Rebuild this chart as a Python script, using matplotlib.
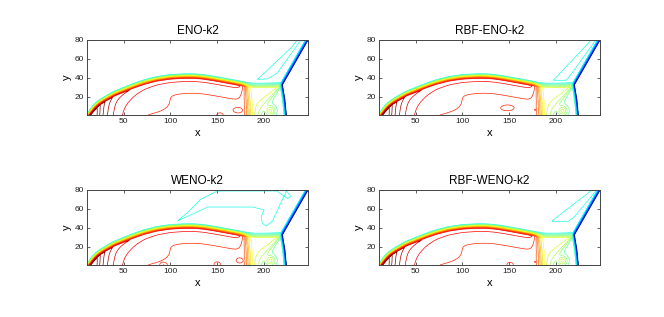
import numpy as np
import matplotlib
matplotlib.use("Agg")
import matplotlib.pyplot as plt
from matplotlib.path import Path
from matplotlib.colors import LinearSegmentedColormap

# ---------------- chart data ----------------
titles = ["ENO-k2", "RBF-ENO-k2", "WENO-k2", "RBF-WENO-k2"]
x_range = [11, 247]
y_range = [1, 80]
x_ticks = [50, 100, 150, 200]
y_ticks = [20, 40, 60, 80]

# density states of the flow regions
rho_pre = 1.4            # ahead of incident shock / Mach stem
rho_post_incident = 8.2  # behind incident shock
rho_interior = 15.9      # behind reflected shock (far field)
rho_slip_high = 11.8     # above the slip line
rho_slip_low = 9.5       # below the slip line
level_min = 1.5
level_max = 20.0
color_max = 19.0
n_levels = 30

# reflected (bow) shock centre line
refl_x = [8, 13, 17, 22, 28.6, 40, 50, 60, 71.5, 85, 100, 115, 125, 135, 146, 160, 172, 182, 190, 205, 218, 260]
refl_y = [-6, 1, 7, 12.5, 17, 23.5, 27.5, 31.5, 35.5, 39, 41.2, 42, 42, 41.2, 39.5, 37, 34.8, 33, 32.3, 32.5, 33, 33]

# incident shock + Mach stem (x as a function of y)
front_y = [-5, 1, 17, 33, 80, 90]
front_x = [223, 222.6, 221, 218.3, 245.6, 251.4]

# slip line from the triple point
slip_y = [-5, 1, 8, 14, 22, 33, 45]
slip_x = [195, 195.5, 198, 203, 210, 218.3, 226]

# expansion front near the wall jet
drop_y = [0, 15, 30, 45]
drop_x = [184, 183, 181, 181]

# wall-corner high-density peak, near-shock layer, tongue
corner_xy = [11, 0]
corner_amp, corner_len = 6.1, 18.3
near_amp, near_len = 1.3, 10.0
tongue_xy = [80, 13]
tongue_size = [16, 8]
tongue_amp = 0.5

# roll-up vortex under the slip line
vortex_xy = [207, 5.5]
vortex_amp, vortex_size = 2.4, 3.5

# cyan loops behind the incident shock (one per panel)
loop_eno_x = [193, 204, 214, 240, 236, 229]
loop_eno_y = [38.5, 39, 45, 80.5, 80.5, 72]
loop_rbfeno_x = [197, 211, 217, 243, 238]
loop_rbfeno_y = [37.5, 37.5, 45, 80.5, 80.5]
loop_weno_x = [107, 118, 132, 150, 214, 222, 225, 229, 224, 216, 209, 202, 198, 197, 200, 188, 140, 120]
loop_weno_y = [47, 56, 70, 79, 79, 73, 71, 73, 79, 62, 47, 42, 45, 52, 59, 62, 62, 53]
loop_rbfweno_x = [195, 213, 219, 244, 239]
loop_rbfweno_y = [47, 47, 51, 80.5, 80.5]
loop_amp = 0.6

# small high-density islands near the wall (x, y, half-width x, half-width y)
isl_eno = [(173, 6, 5, 2.5), (153, 1, 3, 2)]
isl_rbfeno = [(148, 8.4, 6, 2.5), (178, 6.5, 1.2, 1.0)]
isl_weno = [(93, 1, 3, 2), (150, 2, 3, 2), (175, 5.7, 4, 2.5)]
isl_rbfweno = [(151, 1.5, 3, 2), (178, 4.3, 1.2, 1.0)]
isl_amp = 0.8

panel_loops = [(loop_eno_x, loop_eno_y), (loop_rbfeno_x, loop_rbfeno_y),
               (loop_weno_x, loop_weno_y), (loop_rbfweno_x, loop_rbfweno_y)]
panel_islands = [isl_eno, isl_rbfeno, isl_weno, isl_rbfweno]

# MATLAB-style jet
mjet = LinearSegmentedColormap.from_list(
    "mjet", [(0, (0, 0, 0.5)), (1 / 8, (0, 0, 1)), (3 / 8, (0, 1, 1)),
             (5 / 8, (1, 1, 0)), (7 / 8, (1, 0, 0)), (1, (0.5, 0, 0))])

# ---------------- field construction ----------------
dx = 0.4
xg = np.arange(x_range[0], x_range[1] + 1e-9, dx)
yg = np.arange(y_range[0], y_range[1] + 1e-9, dx)
X, Y = np.meshgrid(xg, yg)


def step(d, w):
    return 0.5 * (1.0 + np.tanh(d / w))


def ramp(d, w):
    return np.clip(0.5 + 0.5 * d / w, 0.0, 1.0)


def smooth_curve(q, xp, fp, sigma):
    f = np.interp(q, xp, fp)
    n = int(3 * sigma / dx)
    k = np.exp(-0.5 * (np.arange(-n, n + 1) * dx / sigma) ** 2)
    k /= k.sum()
    return np.convolve(np.pad(f, n, mode="edge"), k, mode="valid")


def poly_sd(px, py):
    px = np.asarray(px, float)
    py = np.asarray(py, float)
    d = np.full(X.shape, np.inf)
    n = len(px)
    for i in range(n):
        ax_, ay_ = px[i], py[i]
        bx_, by_ = px[(i + 1) % n], py[(i + 1) % n]
        vx, vy = bx_ - ax_, by_ - ay_
        t = ((X - ax_) * vx + (Y - ay_) * vy) / (vx * vx + vy * vy)
        t = np.clip(t, 0, 1)
        d = np.minimum(d, np.hypot(X - ax_ - t * vx, Y - ay_ - t * vy))
    inside = Path(np.column_stack([px, py])).contains_points(
        np.column_stack([X.ravel(), Y.ravel()])).reshape(X.shape)
    return np.where(inside, d, -d)


# reflected shock signed distance (positive below / inside)
yr = smooth_curve(xg, refl_x, refl_y, 2.0)
sr = np.gradient(yr, dx)
sd_r = (yr[None, :] - Y) / np.sqrt(1 + sr ** 2)[None, :]

# front signed distance (positive = shocked side)
xf = np.interp(yg, front_y, front_x)
sf = np.gradient(xf, dx)
sd_f = (xf[:, None] - X) / np.sqrt(1 + sf ** 2)[:, None]

# slip line
xs = smooth_curve(yg, slip_y, slip_x, 2.0)
ss = np.gradient(xs, dx)
sd_s = (xs[:, None] - X) / np.sqrt(1 + ss ** 2)[:, None]
w_s = 0.4 + 0.15 * np.hypot(X - front_x[3], Y - front_y[3])

xd = np.interp(yg, drop_y, drop_x)
H_drop = step(X - xd[:, None], 4.5)

r_corner = np.hypot(X - corner_xy[0], Y - corner_xy[1])
base_left = (rho_interior
             + corner_amp * np.exp(-r_corner / corner_len)
             + near_amp * np.exp(-np.maximum(sd_r - 2.0, 0) / near_len)
             + tongue_amp * np.exp(-((X - tongue_xy[0]) / tongue_size[0]) ** 2
                                   - ((Y - tongue_xy[1]) / tongue_size[1]) ** 2))
base_right = (rho_slip_low + (rho_slip_high - rho_slip_low) * step(sd_s, w_s)
              + vortex_amp * np.exp(-((X - vortex_xy[0]) ** 2 + (Y - vortex_xy[1]) ** 2)
                                    / (2 * vortex_size ** 2)))

H_refl = ramp(sd_r, 2.6)
H_front = ramp(sd_f, 1.3)

levels = np.linspace(level_min, level_max, n_levels)

# ---------------- figure ----------------
fig = plt.figure(figsize=(6.64, 3.17), dpi=100)
positions = [[87 / 664, 1 - 115 / 317, 221 / 664, 75 / 317],
             [379 / 664, 1 - 115 / 317, 221 / 664, 75 / 317],
             [87 / 664, 1 - 265 / 317, 221 / 664, 75 / 317],
             [379 / 664, 1 - 265 / 317, 221 / 664, 75 / 317]]

for k in range(4):
    lx, ly = panel_loops[k]
    outer = rho_post_incident + loop_amp * step(poly_sd(lx, ly), 1.2)
    isl = np.zeros_like(X)
    for (cx, cy, hx, hy) in panel_islands[k]:
        isl += isl_amp * np.exp(-((X - cx) / hx) ** 2 - ((Y - cy) / hy) ** 2)
    rho_in = (base_left + isl) * (1 - H_drop) + base_right * H_drop
    rho_shocked = outer + H_refl * (rho_in - outer)
    rho = rho_pre + H_front * (rho_shocked - rho_pre)

    ax = fig.add_axes(positions[k])
    ax.contour(X, Y, rho, levels=levels, cmap=mjet, vmin=level_min, vmax=color_max,
               linewidths=0.5)
    ax.set_xlim(x_range)
    ax.set_ylim(y_range)
    ax.set_xticks(x_ticks)
    ax.set_yticks(y_ticks)
    ax.tick_params(direction="in", top=True, right=True, length=2.5, width=0.5,
                   labelsize=6, pad=2, colors="#222222")
    for sp in ax.spines.values():
        sp.set_linewidth(0.7)
        sp.set_color("#444444")
    ax.set_title(titles[k], fontsize=8.5, pad=4, family="Liberation Sans")
    ax.set_xlabel("x", fontsize=8, labelpad=2, family="Liberation Sans")
    ax.set_ylabel("y", fontsize=8, labelpad=2, family="Liberation Sans")
    for lab in ax.get_xticklabels() + ax.get_yticklabels():
        lab.set_family("Liberation Sans")

fig.savefig("out.png", dpi=100)
